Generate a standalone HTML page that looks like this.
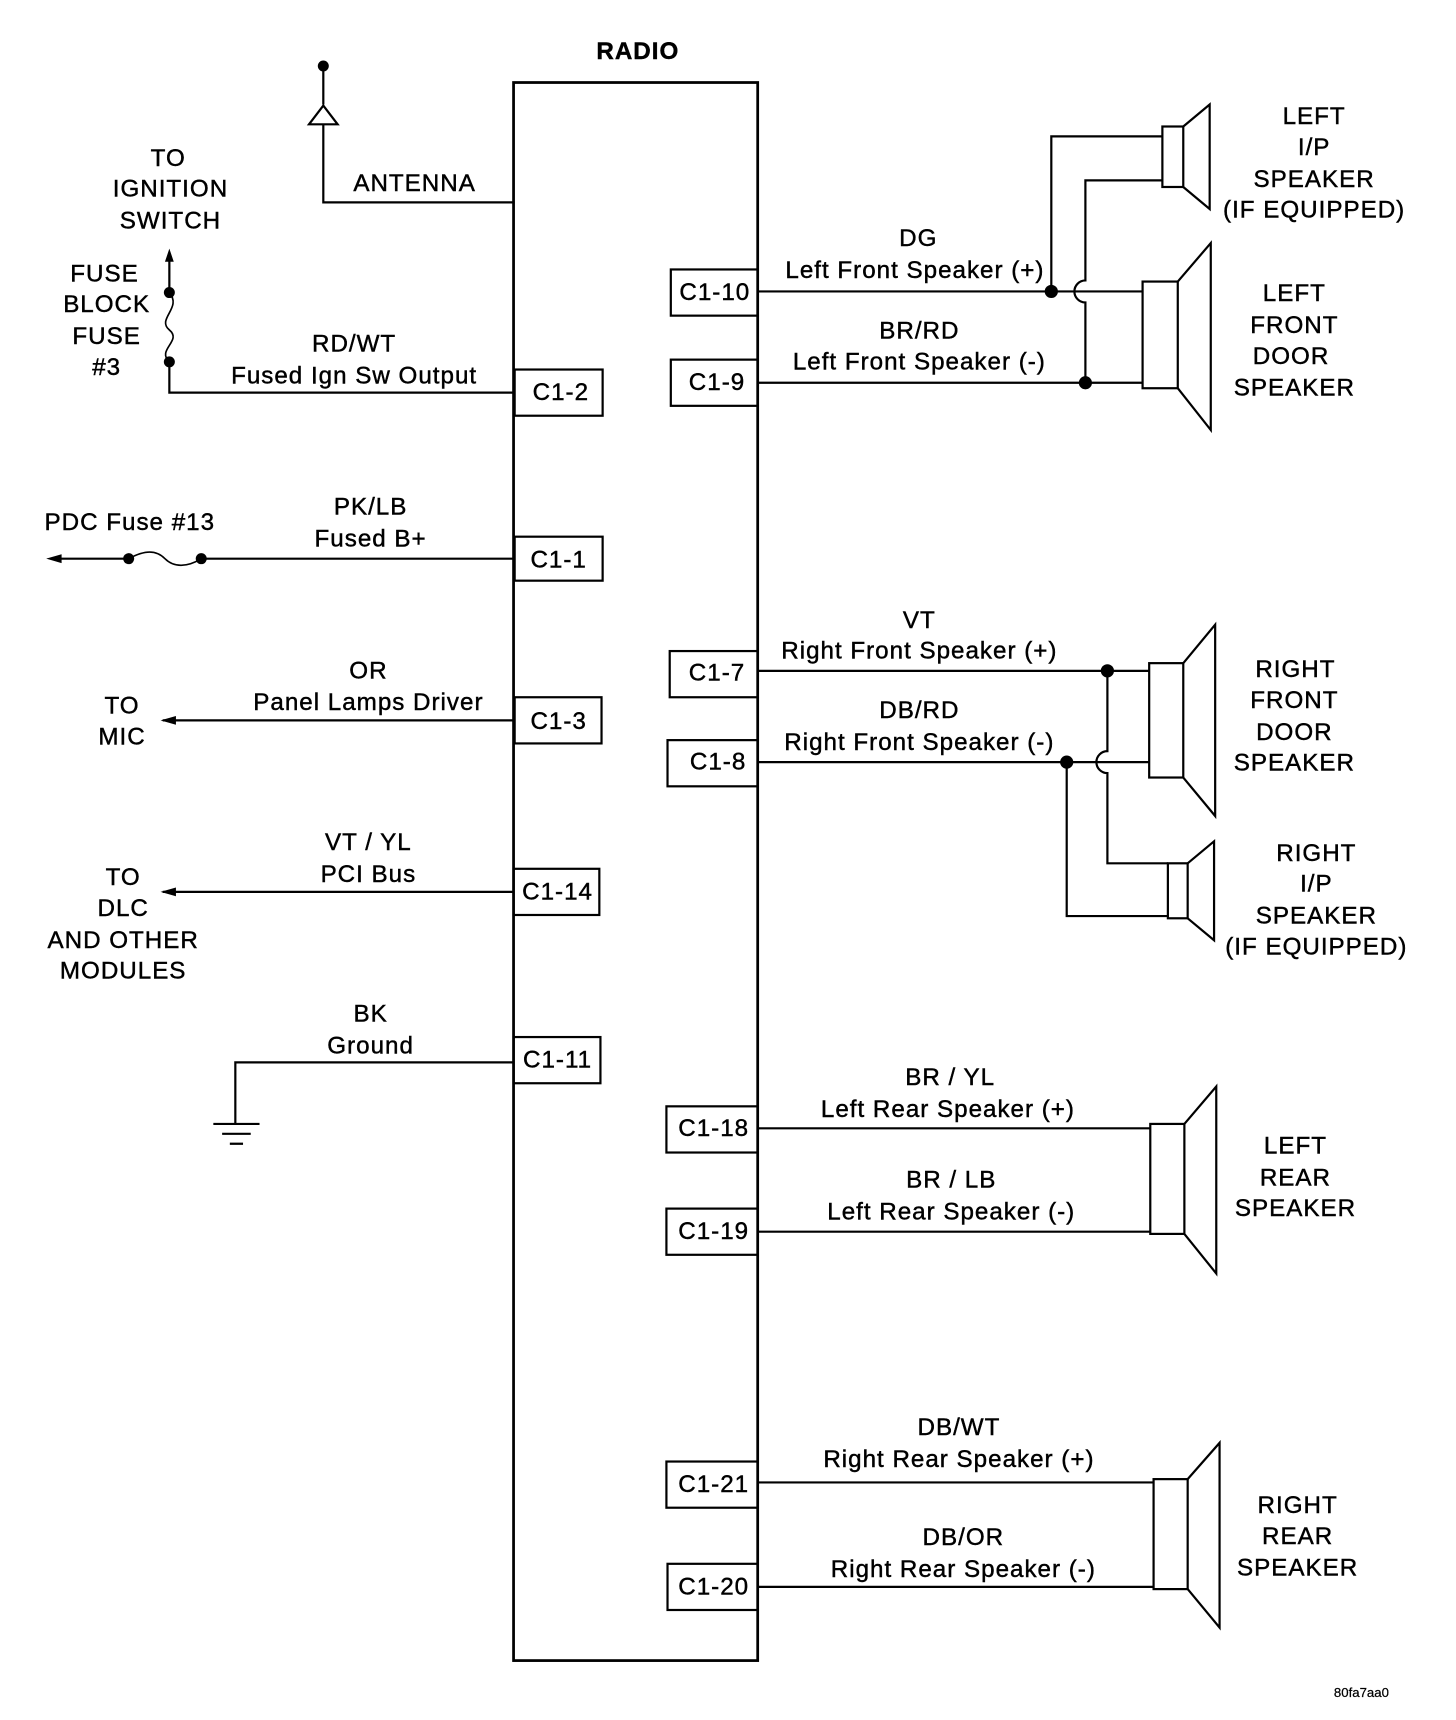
<!DOCTYPE html>
<html><head><meta charset="utf-8"><style>
html,body{margin:0;padding:0;background:#fff}
svg{display:block}
text{font-family:"Liberation Sans",Arial,sans-serif;font-size:22px;letter-spacing:0.9px;fill:#000;stroke:#000;stroke-width:0.4;text-anchor:middle;dominant-baseline:middle}
</style></head><body>
<svg width="1456" height="1720" viewBox="0 0 1324 1564" xmlns="http://www.w3.org/2000/svg">
<g stroke="#000" stroke-width="2" fill="none">
<rect x="467" y="75" width="222" height="1435" stroke-width="2.5"/>
<rect x="468" y="336" width="80" height="42"/>
<rect x="468" y="488" width="80" height="40"/>
<rect x="468" y="634" width="79" height="42"/>
<rect x="467" y="790" width="78" height="42"/>
<rect x="467" y="943" width="79" height="42"/>
<rect x="610" y="245" width="79" height="42"/>
<rect x="610" y="327" width="79" height="42"/>
<rect x="609" y="592" width="80" height="42"/>
<rect x="607" y="673" width="82" height="42"/>
<rect x="606" y="1006" width="83" height="42"/>
<rect x="606" y="1099" width="83" height="42"/>
<rect x="606" y="1329" width="83" height="42"/>
<rect x="607" y="1422" width="82" height="42"/>
<path d="M294 60 V95 M281 113 L294 96 L307 113 Z M294 113 V184 H468"/>
<path d="M154 232 V266 M154 329 V357 H468"/>
<path d="M154 266 C166 280 142 290 154 300 C166 310 142 318 154 329" stroke-width="1.5"/>
<path d="M55 508 H117 M183 508 H468"/>
<path d="M117 508 C132 500 142 500 150 508 C158 516 170 516 183 508" stroke-width="1.5"/>
<path d="M148 655 H468 M148 811 H467"/>
<path d="M467 966 H214 V1022 M194 1022 H236 M202 1031 H228 M209 1040 H221"/>
<path d="M689 265 H1039 M689 348 H1039"/>
<path d="M956 265 V124 H1057 M987 348 V275 A10 10 0 0 1 987 255 V164 H1057"/>
<rect x="1039" y="256" width="32" height="97"/>
<path d="M1071 256 L1101 221 V391 L1071 353"/>
<rect x="1057" y="115" width="19" height="55"/>
<path d="M1076 115 L1100 95 V190 L1076 170"/>
<path d="M689 610 H1045 M689 693 H1045"/>
<path d="M1007 610 V683 A10 10 0 0 0 1007 703 V785 H1062 M970 693 V833 H1062"/>
<rect x="1045" y="603" width="31" height="104"/>
<path d="M1076 603 L1105 568 V742 L1076 707"/>
<rect x="1062" y="785" width="18" height="50"/>
<path d="M1080 785 L1104 765 V855 L1080 835"/>
<path d="M689 1026 H1046 M689 1120 H1046"/>
<rect x="1046" y="1022" width="31" height="100"/>
<path d="M1077 1022 L1106 988 V1158 L1077 1122"/>
<path d="M689 1348 H1049 M689 1443 H1049"/>
<rect x="1049" y="1345" width="31" height="100"/>
<path d="M1080 1345 L1109 1312 V1480 L1080 1445"/>
</g>
<g fill="#000">
<circle cx="294" cy="60" r="5"/>
<circle cx="154" cy="266" r="5"/><circle cx="154" cy="329" r="5"/>
<circle cx="117" cy="508" r="5"/><circle cx="183" cy="508" r="5"/>
<circle cx="956" cy="265" r="6"/><circle cx="987" cy="348" r="6"/>
<circle cx="1007" cy="610" r="6"/><circle cx="970" cy="693" r="6"/>
<path d="M154 226 L150 238 L158 238 Z"/>
<path d="M42 508 L56 504 L56 512 Z"/>
<path d="M146 655 L160 651 L160 659 Z"/>
<path d="M146 811 L160 807 L160 815 Z"/>
</g>
<text x="580" y="48" style="font-weight:bold">RADIO</text>
<text x="377" y="168">ANTENNA</text>
<text x="153" y="145">TO</text><text x="155" y="173">IGNITION</text><text x="155" y="202">SWITCH</text>
<text x="95" y="250">FUSE</text><text x="97" y="278">BLOCK</text><text x="97" y="307">FUSE</text><text x="97" y="335">#3</text>
<text x="322" y="314">RD/WT</text><text x="322" y="343">Fused Ign Sw Output</text>
<text x="118" y="476">PDC Fuse #13</text>
<text x="337" y="462">PK/LB</text><text x="337" y="491">Fused B+</text>
<text x="335" y="611">OR</text><text x="335" y="640">Panel Lamps Driver</text>
<text x="111" y="643">TO</text><text x="111" y="671">MIC</text>
<text x="335" y="767">VT / YL</text><text x="335" y="796">PCI Bus</text>
<text x="112" y="799">TO</text><text x="112" y="827">DLC</text><text x="112" y="856">AND OTHER</text><text x="112" y="884">MODULES</text>
<text x="337" y="923">BK</text><text x="337" y="952">Ground</text>
<text x="510" y="358">C1-2</text><text x="508" y="510">C1-1</text><text x="508" y="657">C1-3</text>
<text x="507" y="812">C1-14</text><text x="507" y="965">C1-11</text>
<text x="650" y="267">C1-10</text><text x="652" y="349">C1-9</text><text x="652" y="613">C1-7</text>
<text x="653" y="694">C1-8</text><text x="649" y="1027">C1-18</text><text x="649" y="1121">C1-19</text>
<text x="649" y="1351">C1-21</text><text x="649" y="1444">C1-20</text>
<text x="835" y="218">DG</text><text x="832" y="247">Left Front Speaker (+)</text>
<text x="836" y="302">BR/RD</text><text x="836" y="330">Left Front Speaker (-)</text>
<text x="836" y="565">VT</text><text x="836" y="593">Right Front Speaker (+)</text>
<text x="836" y="647">DB/RD</text><text x="836" y="676">Right Front Speaker (-)</text>
<text x="864" y="981">BR / YL</text><text x="862" y="1010">Left Rear Speaker (+)</text>
<text x="865" y="1074">BR / LB</text><text x="865" y="1103">Left Rear Speaker (-)</text>
<text x="872" y="1299">DB/WT</text><text x="872" y="1328">Right Rear Speaker (+)</text>
<text x="876" y="1399">DB/OR</text><text x="876" y="1428">Right Rear Speaker (-)</text>
<text x="1195" y="107">LEFT</text><text x="1195" y="135">I/P</text><text x="1195" y="164">SPEAKER</text><text x="1195" y="192">(IF EQUIPPED)</text>
<text x="1177" y="268">LEFT</text><text x="1177" y="297">FRONT</text><text x="1174" y="325">DOOR</text><text x="1177" y="354">SPEAKER</text>
<text x="1178" y="610">RIGHT</text><text x="1177" y="638">FRONT</text><text x="1177" y="667">DOOR</text><text x="1177" y="695">SPEAKER</text>
<text x="1197" y="777">RIGHT</text><text x="1197" y="805">I/P</text><text x="1197" y="834">SPEAKER</text><text x="1197" y="862">(IF EQUIPPED)</text>
<text x="1178" y="1043">LEFT</text><text x="1178" y="1072">REAR</text><text x="1178" y="1100">SPEAKER</text>
<text x="1180" y="1370">RIGHT</text><text x="1180" y="1398">REAR</text><text x="1180" y="1427">SPEAKER</text>
<text x="1238" y="1540" style="font-size:12px;letter-spacing:0;stroke-width:0.2">80fa7aa0</text>
</svg>
</body></html>
